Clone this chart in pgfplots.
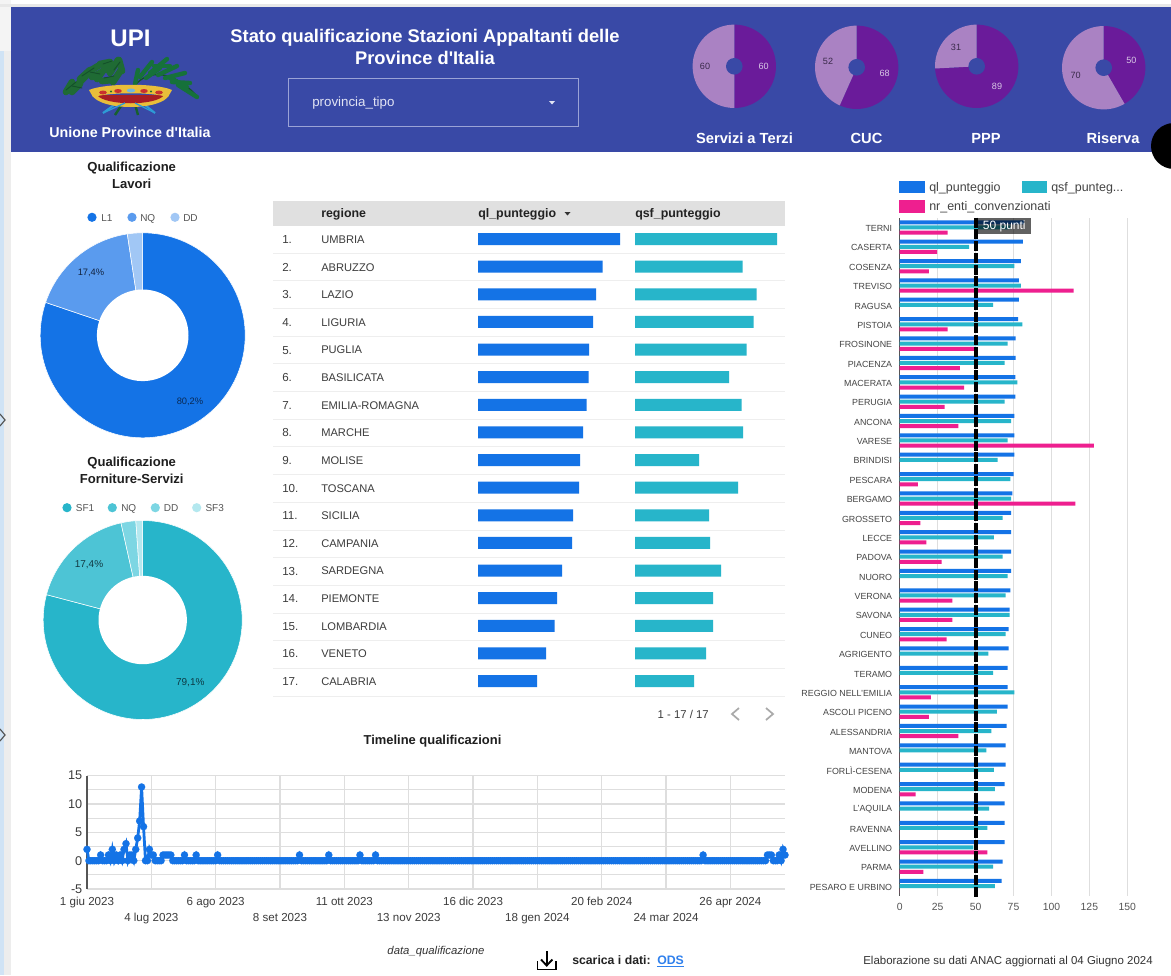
\documentclass[border=0pt]{standalone}
\usepackage{fontspec}
\setmainfont{Liberation Sans}
\usepackage{pgfplots}
\usepackage{pgfplotstable}
\pgfplotsset{compat=1.18}
\def\u{0.75pt}
\definecolor{hdr}{HTML}{3949A6}
\definecolor{cql}{HTML}{1473E6}
\definecolor{cqsf}{HTML}{27B5CA}
\definecolor{cnr}{HTML}{EE1F8F}
\definecolor{dpur}{HTML}{6A1B9A}
\definecolor{lpur}{HTML}{AA82C3}
\definecolor{txt}{HTML}{3C3C3C}
\definecolor{gridc}{HTML}{DEDEDE}
\definecolor{cfive}{HTML}{555555}
\definecolor{cfour}{HTML}{444444}
\definecolor{lnq}{HTML}{5A9BEE}
\definecolor{ldd}{HTML}{A1C7F5}
\definecolor{fnq}{HTML}{4DC4D5}
\definecolor{fdd}{HTML}{7DD6E3}
\definecolor{fsf}{HTML}{B4E8EF}
\tikzset{HTML/.code={\definecolor{tmpc}{HTML}{#1}\pgfkeysalso{/tikz/color=tmpc}}}
\newcommand\fz[1]{\fontsize{#1}{#1}\selectfont}
% a slice: from, to (in value units), degrees per unit, colour, border
\newcommand\slice[5]{\addplot[fill=#4,#5,domain=#1*#3:#2*#3,samples=120,no markers,forget plot]({sin(x)},{cos(x)}) -- (axis cs:0,0) -- cycle;}
\pgfplotsset{ring/.style={scale only axis,hide axis,xmin=-1,xmax=1,ymin=-1,ymax=1,anchor=center,clip=false}}

\pgfplotstableread{
y ql qsf nr
35 82.0 73.0 31.6
34 81.2 45.7 24.6
33 79.9 75.5 19.3
32 78.6 79.9 114.6
31 78.6 61.5 0
30 78.1 80.8 31.6
29 76.4 71.1 49.6
28 76.4 69.1 39.7
27 76.2 77.5 42.4
26 76.2 69.1 29.6
25 75.5 73.5 38.6
24 75.5 71.1 128.0
23 75.5 64.5 0
22 75.1 72.9 11.9
21 74.2 73.5 115.7
20 73.5 67.8 13.6
19 73.5 62.1 17.6
18 73.5 67.8 27.7
17 73.5 71.1 0
16 72.9 69.8 34.7
15 72.4 72.4 34.7
14 71.8 69.8 30.9
13 71.8 58.4 0
12 71.1 61.5 0
11 71.1 75.5 20.6
10 71.1 64.1 19.3
9 70.5 60.4 38.6
8 69.8 57.1 0
7 69.8 62.1 0
6 69.1 62.8 10.5
5 69.1 59.0 0
4 69.1 57.7 0
3 69.1 48.5 57.7
2 67.8 61.5 15.6
1 67.2 62.8 0
}\province

\pgfplotstableread{
r ql qsf
1 142 142
2 124.5 107.5
3 118 121.5
4 115 118.5
5 111 111.5
6 110.5 94
7 108.5 106.5
8 105 108
9 102 64
10 101 103
11 95 74
12 94 75
13 84 86
14 79 78
15 76.5 78
16 68 71
17 59 59
}\regioni

\begin{document}
\begin{tikzpicture}[x=0.75pt,y=-0.75pt]
\path[use as bounding box] (0,0) rectangle (1171,975);
\fill[white] (0,0) rectangle (1171,975);
% frame strips
\fill[HTML=F4F4F4] (0,0) rectangle (11,51);
\fill[HTML=D0E3F5] (0,51) rectangle (4,975);
\fill[HTML=EDEDED] (4,51) rectangle (11,975);
\fill[HTML=E8E8E8] (0,4) rectangle (1171,7);
\draw[HTML=555555,line width=0.9pt] (0,414)--(5,420)--(0,426);
\draw[HTML=555555,line width=0.9pt] (0,729)--(5,735)--(0,741);
% header
\fill[hdr] (11,7) rectangle (1171,152);
\node[white,font=\fz{18}\bfseries] at (130.5,38) {UPI};
% logo
\begin{scope}[line cap=round]
\foreach \p/\q/\r/\s in {66/92/72/82,72/92/80/84,76/86/86/76,80/79/90/70,88/72/98/66,92/77/102/72,97/79/105/68,100/64/110/62,107/70/116/64,110/73/118/60,113/82/121/70,102/81/112/80,119/60/122/71}
  \draw[HTML=1F6B34,line width=5pt] (\p,\q)--(\r,\s);
\foreach \p/\q/\r/\s in {66/90/76/82,82/76/94/68,103/64/112/61,114/70/120/62,104/78/114/76,90/72/100/74,72/86/82/88}
  \draw[HTML=14502A,line width=0.7pt] (\p,\q)--(\r,\s);
\draw[HTML=14502A,line width=1pt] (133,88) .. controls (145,70) and (170,68) .. (196,95);
\foreach \p/\q/\r/\s in {135/84/138/70,140/77/152/62,150/73/167/59,158/75/177/66,165/78/185/73,172/82/190/83,178/85/197/97,170/78/187/87,146/78/160/68,154/66/170/66}
  \draw[HTML=16713A,line width=3.3pt] (\p,\q)--(\r,\s);
\end{scope}
\draw[HTML=2E9BD6,line width=1.5pt] (125,97)--(103,113) (135,97)--(155,113);
\draw[HTML=17602E,line width=1.8pt] (127,97)--(115,115) (133,97)--(138,115);
\fill[HTML=E9BE3A] (92,95) .. controls (100,111) and (162,111) .. (169,95) -- cycle;
\fill[HTML=A81E24] (97,95) .. controls (105,106) and (157,106) .. (164,95) -- cycle;
\fill[HTML=E9BE3A] (89,90) .. controls (105,83) and (157,83) .. (172,90) -- (168,97) .. controls (150,92) and (112,92) .. (93,97) -- cycle;
\fill[HTML=C9312F] (103,92.5) ellipse (3.8 and 2);
\fill[HTML=C9312F] (118,91) ellipse (3.8 and 2);
\fill[HTML=6FB7E0] (131,90.5) ellipse (4.2 and 2);
\fill[HTML=C9312F] (144,91) ellipse (3.8 and 2);
\fill[HTML=C9312F] (159,92.5) ellipse (3.8 and 2);
\fill[HTML=1F6B34] (111,91.5) circle (1.2) (151,91.5) circle (1.2);
\draw[HTML=2E9BD6,line width=1pt] (125,103)--(103,113) (135,103)--(155,113);
\node[white,font=\fz{10.7}\bfseries] at (130,132) {Unione Province d\textquotesingle Italia};
\node[white,font=\fz{13.75}\bfseries] at (425,37.3) {Stato qualificazione Stazioni Appaltanti delle};
\node[white,font=\fz{13.75}\bfseries] at (425,58) {Province d\textquotesingle Italia};
\draw[HTML=9BA3D6,line width=0.7pt] (288.5,78) rectangle (578.5,126);
\node[HTML=E2E4F4,anchor=west,inner sep=0,font=\fz{10}] at (312,103) {provincia\_tipo};
\fill[HTML=E2E4F4] (549,101) -- (555,101) -- (552,104.5) -- cycle;
\node[white,font=\fz{11}\bfseries] at (744.5,138.7) {Servizi a Terzi};
\node[white,font=\fz{11}\bfseries] at (866.5,138.7) {CUC};
\node[white,font=\fz{11}\bfseries] at (986,138.7) {PPP};
\node[white,font=\fz{11}\bfseries] at (1113,138.7) {Riserva};

% header pies
\foreach \cx/\cy/\va/\vb in {734.3/66.3/60/120,856.7/67.3/68/120,976.7/66.3/89/120,1103.7/67.7/50/120}{
\begin{axis}[ring,width=62.5pt,height=62.5pt,at={(\cx*\u,-\cy*\u)}]
\slice{0}{\va}{3}{dpur}{draw=none}
\slice{\va}{\vb}{3}{lpur}{draw=none}
\end{axis}
\fill[hdr] (\cx,\cy) circle (8.3);}
\foreach \a/\b/\t/\c in {763.7/66/60/D9C8E6,705/66/60/3A2A4A,884.7/73.7/68/D9C8E6,828/61.7/52/3A2A4A,997/86/89/D9C8E6,956/47/31/3A2A4A,1131.3/60.3/50/D9C8E6,1075.7/75.7/70/3A2A4A}
  \node[HTML=\c,font=\fz{6.8},inner sep=0] at (\a,\b) {\t};
\fill[black] (1174,146) circle (23);

% donut titles
\node[HTML=1E1E1E,font=\fz{9.8}\bfseries] at (131.7,168.5) {Qualificazione};
\node[HTML=1E1E1E,font=\fz{9.8}\bfseries] at (131.7,184) {Lavori};
\node[HTML=1E1E1E,font=\fz{9.8}\bfseries] at (131.7,463) {Qualificazione};
\node[HTML=1E1E1E,font=\fz{9.8}\bfseries] at (131.7,478.5) {Forniture-Servizi};
\foreach \a/\b/\t/\c in {92/101/L1/1473E6,132/140/NQ/5A9BEE,175/183/DD/A1C7F5}{
  \fill[HTML=\c] (\a,217.3) circle (4.6);
  \node[HTML=555555,anchor=base west,inner sep=0,font=\fz{7.5}] at (\b,221) {\t};}
\foreach \a/\b/\t/\c in {67/75.7/SF1/27B5CA,112.3/121/NQ/4DC4D5,155.3/163.7/DD/7DD6E3,196.7/205.3/SF3/B4E8EF}{
  \fill[HTML=\c] (\a,507.7) circle (4.6);
  \node[HTML=555555,anchor=base west,inner sep=0,font=\fz{7.5}] at (\b,511.4) {\t};}

% donut Lavori
\begin{axis}[ring,width=153.75pt,height=153.75pt,at={(142.7*\u,-335.3*\u)}]
\slice{0}{80.2}{3.6}{cql}{draw=white,line width=0.4pt}
\slice{80.2}{97.6}{3.6}{lnq}{draw=white,line width=0.4pt}
\slice{97.6}{100}{3.6}{ldd}{draw=white,line width=0.4pt}
\end{axis}
\fill[white] (142.7,335.3) circle (45.8);
\node[HTML=12233F,font=\fz{7}] at (91,273.3) {17,4\%};
\node[HTML=0A2A55,font=\fz{7}] at (190,402) {80,2\%};
% donut Forniture
\begin{axis}[ring,width=149.25pt,height=149.25pt,at={(142.7*\u,-620*\u)}]
\slice{0}{79.1}{3.6}{cqsf}{draw=white,line width=0.4pt}
\slice{79.1}{96.5}{3.6}{fnq}{draw=white,line width=0.4pt}
\slice{96.5}{98.9}{3.6}{fdd}{draw=white,line width=0.4pt}
\slice{98.9}{100}{3.6}{fsf}{draw=white,line width=0.4pt}
\end{axis}
\fill[white] (142.7,620) circle (44.2);
\node[HTML=123A42,font=\fz{7.5}] at (89,564.7) {17,4\%};
\node[HTML=0D3A44,font=\fz{7.5}] at (190.3,682.3) {79,1\%};

% table
\fill[HTML=E0E0E0] (273,201) rectangle (785,226);
\foreach \i in {0,...,16}
  \draw[HTML=EEEEEE,line width=0.7pt] (273,253+27.7*\i) -- (785,253+27.7*\i);
\node[HTML=222222,anchor=base west,inner sep=0,font=\fz{9.3}\bfseries] at (321,217.2) {regione};
\node[HTML=222222,anchor=base west,inner sep=0,font=\fz{9.3}\bfseries] at (478,217.2) {ql\_punteggio};
\node[HTML=222222,anchor=base west,inner sep=0,font=\fz{9.3}\bfseries] at (635,217.2) {qsf\_punteggio};
\fill[HTML=333333] (564.5,212) -- (570.5,212) -- (567.5,215.5) -- cycle;
\foreach \i/\t in {1/UMBRIA,2/ABRUZZO,3/LAZIO,4/LIGURIA,5/PUGLIA,6/BASILICATA,7/EMILIA-ROMAGNA,8/MARCHE,9/MOLISE,10/TOSCANA,11/SICILIA,12/CAMPANIA,13/SARDEGNA,14/PIEMONTE,15/LOMBARDIA,16/VENETO,17/CALABRIA}{
  \node[txt,anchor=west,inner sep=0,font=\fz{8.7}] at (282,239.6+27.625*\i-27.625) {\i.};
  \node[txt,anchor=west,inner sep=0,font=\fz{8.35}] at (321,239.6+27.625*\i-27.625) {\t};}
\begin{axis}[scale only axis,hide axis,width=106.5pt,height=352.2pt,at={(478*\u,-225.2*\u)},anchor=north west,
  xbar,bar width=9pt,bar shift=0pt,y dir=reverse,xmin=0,xmax=142,ymin=0.5,ymax=17.5]
\addplot[fill=cql,draw=none] table[x=ql,y=r]{\regioni};
\end{axis}
\begin{axis}[scale only axis,hide axis,width=106.5pt,height=352.2pt,at={(635*\u,-225.2*\u)},anchor=north west,
  xbar,bar width=9pt,bar shift=0pt,y dir=reverse,xmin=0,xmax=142,ymin=0.5,ymax=17.5]
\addplot[fill=cqsf,draw=none] table[x=qsf,y=r]{\regioni};
\end{axis}
\node[txt,anchor=east,inner sep=0,font=\fz{8.5}] at (709,714) {1 - 17 / 17};
\draw[HTML=AAAAAA,line width=1.3pt] (739,708)--(732,714)--(739,720);
\draw[HTML=AAAAAA,line width=1.3pt] (766,708)--(773,714)--(766,720);

% timeline
\node[HTML=1E1E1E,font=\fz{9.7}\bfseries] at (432.5,741.5) {Timeline qualificazioni};
\begin{axis}[scale only axis,width=523.5pt,height=85pt,at={(87*\u,-889*\u)},anchor=south west,
  xmin=0,xmax=358,ymin=-5,ymax=15,clip=false,
  axis lines*=left,x axis line style={draw=none},y axis line style={draw=cfive,line width=0.9pt},
  major tick length=0pt,minor tick length=0pt,
  xmajorgrids,ymajorgrids,yminorgrids,minor ytick={-2.5,2.5,7.5,12.5},
  grid style={draw=gridc,line width=0.9pt},
  major grid style={draw=gridc,line width=0.9pt},minor grid style={draw=gridc,line width=0.9pt},
  ytick={-5,0,5,10,15},
  xtick={0,33,66,99,132,165,198,231,264,297,330},
  xticklabels={\strut 1 giu 2023,{\strut\\4 lug 2023},\strut 6 ago 2023,{\strut\\8 set 2023},\strut 11 ott 2023,{\strut\\13 nov 2023},\strut 16 dic 2023,{\strut\\18 gen 2024},\strut 20 feb 2024,{\strut\\24 mar 2024},\strut 26 apr 2024},
  xticklabel style={align=center,font=\fontsize{8.7}{11.7pt}\selectfont,text=txt,inner sep=1pt,yshift=-3.3pt},
  yticklabel style={font=\fz{9.5},text=txt},
  /pgf/number format/assume math mode=true]
\addplot[draw=cql,line width=2.1pt,mark=*,mark size=2.7pt,mark options={fill=cql,draw=cql,line width=0.1pt}] coordinates {
(0,2)(1,0)(2,0)(3,0)(4,0)(5,0)(6,0)(7,1)(8,0)(9,0)(10,0)(11,1)(12,0)(13,2)(14,0)(15,1)(16,0)(17,1)(18,0)(19,2)
(20,3)(21,0)(22,1)(23,1)(24,0)(25,2)(26,4)(27,7)(28,13)(29,6)(30,0)(31,0)(32,2)(33,1)(34,1)(35,0)(36,0)(37,0)(38,0)(39,1)
(40,1)(41,1)(42,1)(43,1)(44,0)(45,0)(46,0)(47,0)(48,0)(49,0)(50,1)(51,0)(52,0)(53,0)(54,0)(55,0)(56,1)(57,0)(58,0)(59,0)
(60,0)(61,0)(62,0)(63,0)(64,0)(65,0)(66,0)(67,1)(68,0)(69,0)(70,0)(71,0)(72,0)(73,0)(74,0)(75,0)(76,0)(77,0)(78,0)(79,0)
(80,0)(81,0)(82,0)(83,0)(84,0)(85,0)(86,0)(87,0)(88,0)(89,0)(90,0)(91,0)(92,0)(93,0)(94,0)(95,0)(96,0)(97,0)(98,0)(99,0)
(100,0)(101,0)(102,0)(103,0)(104,0)(105,0)(106,0)(107,0)(108,0)(109,1)(110,0)(111,0)(112,0)(113,0)(114,0)(115,0)(116,0)(117,0)(118,0)(119,0)
(120,0)(121,0)(122,0)(123,0)(124,1)(125,0)(126,0)(127,0)(128,0)(129,0)(130,0)(131,0)(132,0)(133,0)(134,0)(135,0)(136,0)(137,0)(138,0)(139,0)
(140,1)(141,0)(142,0)(143,0)(144,0)(145,0)(146,0)(147,0)(148,1)(149,0)(150,0)(151,0)(152,0)(153,0)(154,0)(155,0)(156,0)(157,0)(158,0)(159,0)
(160,0)(161,0)(162,0)(163,0)(164,0)(165,0)(166,0)(167,0)(168,0)(169,0)(170,0)(171,0)(172,0)(173,0)(174,0)(175,0)(176,0)(177,0)(178,0)(179,0)
(180,0)(181,0)(182,0)(183,0)(184,0)(185,0)(186,0)(187,0)(188,0)(189,0)(190,0)(191,0)(192,0)(193,0)(194,0)(195,0)(196,0)(197,0)(198,0)(199,0)
(200,0)(201,0)(202,0)(203,0)(204,0)(205,0)(206,0)(207,0)(208,0)(209,0)(210,0)(211,0)(212,0)(213,0)(214,0)(215,0)(216,0)(217,0)(218,0)(219,0)
(220,0)(221,0)(222,0)(223,0)(224,0)(225,0)(226,0)(227,0)(228,0)(229,0)(230,0)(231,0)(232,0)(233,0)(234,0)(235,0)(236,0)(237,0)(238,0)(239,0)
(240,0)(241,0)(242,0)(243,0)(244,0)(245,0)(246,0)(247,0)(248,0)(249,0)(250,0)(251,0)(252,0)(253,0)(254,0)(255,0)(256,0)(257,0)(258,0)(259,0)
(260,0)(261,0)(262,0)(263,0)(264,0)(265,0)(266,0)(267,0)(268,0)(269,0)(270,0)(271,0)(272,0)(273,0)(274,0)(275,0)(276,0)(277,0)(278,0)(279,0)
(280,0)(281,0)(282,0)(283,0)(284,0)(285,0)(286,0)(287,0)(288,0)(289,0)(290,0)(291,0)(292,0)(293,0)(294,0)(295,0)(296,0)(297,0)(298,0)(299,0)
(300,0)(301,0)(302,0)(303,0)(304,0)(305,0)(306,0)(307,0)(308,0)(309,0)(310,0)(311,0)(312,0)(313,0)(314,0)(315,0)(316,1)(317,0)(318,0)(319,0)
(320,0)(321,0)(322,0)(323,0)(324,0)(325,0)(326,0)(327,0)(328,0)(329,0)(330,0)(331,0)(332,0)(333,0)(334,0)(335,0)(336,0)(337,0)(338,0)(339,0)
(340,0)(341,0)(342,0)(343,0)(344,0)(345,0)(346,0)(347,0)(348,0)(349,1)(350,1)(351,1)(352,0)(353,0)(354,0)(355,1)(356,0)(357,2)(358,1)};
\end{axis}
\node[HTML=333333,font=\fz{8.5}\itshape] at (436,952) {data\_qualificazione};
% bottom
\draw[black,line width=1.4pt] (537.5,961)--(537.5,969.5)--(556,969.5)--(556,961);
\draw[black,line width=1.4pt] (546.7,951)--(546.7,965);
\draw[black,line width=1.4pt] (541,959.5)--(546.7,965.5)--(552.4,959.5);
\node[HTML=222222,anchor=base west,inner sep=0,font=\fz{9.2}\bfseries] at (572,964.5) {scarica i dati:};
\node[HTML=2F80ED,anchor=base west,inner sep=0,font=\fz{9.2}\bfseries] at (657,964.5) {\underline{ODS}};
\node[HTML=333333,anchor=base east,inner sep=0,font=\fz{8.6}] at (1153,964.3) {Elaborazione su dati ANAC aggiornati al 04 Giugno 2024};

% right chart legend
\fill[cql] (899,180.7) rectangle (924.7,192.7);
\node[HTML=444444,anchor=base west,inner sep=0,font=\fz{9.35}] at (929,191.2) {ql\_punteggio};
\fill[cqsf] (1021.7,180.7) rectangle (1046.7,192.7);
\node[HTML=444444,anchor=base west,inner sep=0,font=\fz{9.35}] at (1051,191.2) {qsf\_punteg...};
\fill[cnr] (899,200) rectangle (924.7,212.7);
\node[HTML=444444,anchor=base west,inner sep=0,font=\fz{9.35}] at (929,210.5) {nr\_enti\_convenzionati};

% right chart
\begin{axis}[scale only axis,width=170.7pt,height=508.5pt,at={(899.7*\u,-895.7*\u)},anchor=south west,
  xbar,bar width=3pt,xmin=0,xmax=150,ymin=0.5,ymax=35.5,clip=false,
  axis lines*=left,x axis line style={draw=none},y axis line style={draw=cfive,line width=1.1pt},
  major tick length=0pt,
  xmajorgrids,grid style={draw=gridc,line width=0.9pt},
  xtick={0,25,50,75,100,125,150},ytick={1,...,35},
  yticklabels={PESARO E URBINO,PARMA,AVELLINO,RAVENNA,L'AQUILA,MODENA,FORLÌ-CESENA,MANTOVA,ALESSANDRIA,ASCOLI PICENO,REGGIO NELL'EMILIA,TERAMO,AGRIGENTO,CUNEO,SAVONA,VERONA,NUORO,PADOVA,LECCE,GROSSETO,BERGAMO,PESCARA,BRINDISI,VARESE,ANCONA,PERUGIA,MACERATA,PIACENZA,FROSINONE,PISTOIA,RAGUSA,TREVISO,COSENZA,CASERTA,TERNI},
  yticklabel style={font=\fz{6.65},text=cfour,inner sep=0pt,xshift=-5.5pt,yshift=-0.8pt},
  xticklabel style={font=\fz{7.8},text=cfive,inner sep=1pt,yshift=-4.5pt},
  /pgf/number format/assume math mode=true]
\addplot[fill=cql,draw=none,bar shift=3.85pt] table[x=ql,y=y]{\province};
\addplot[fill=cqsf,draw=none,bar shift=0pt] table[x=qsf,y=y]{\province};
\addplot[fill=cnr,draw=none,bar shift=-3.85pt] table[x=nr,y=y]{\province};
\addplot[sharp plot,black,line width=3pt,dash pattern=on 7.5pt off 1.3pt,forget plot] coordinates {(50,35.5)(50,0.4)};
\end{axis}
\fill[black,opacity=0.62] (977.7,218) rectangle (1031,234);
\node[white,font=\fz{9}] at (1004.3,226) {50 punti};
\end{tikzpicture}
\end{document}
